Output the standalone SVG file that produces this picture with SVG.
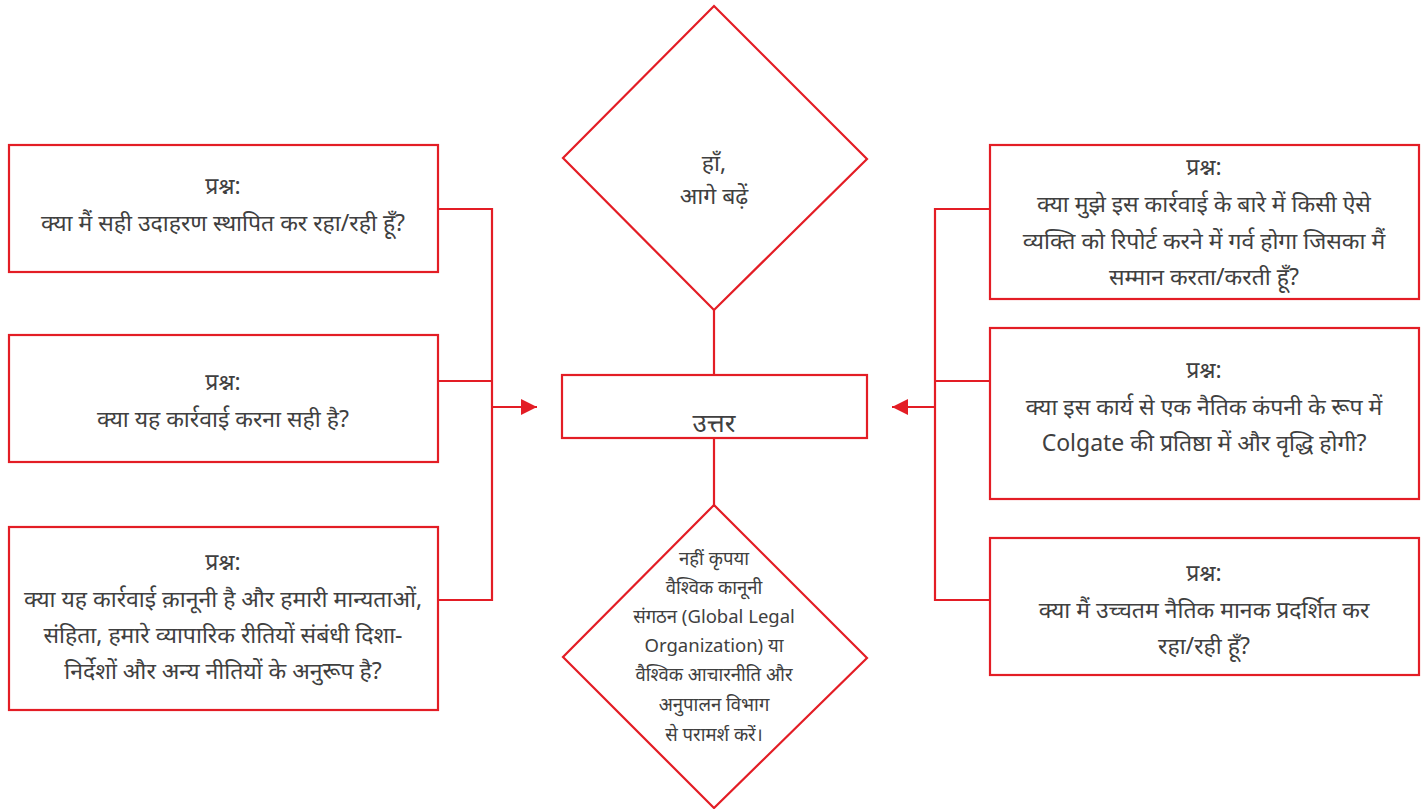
<svg xmlns="http://www.w3.org/2000/svg" width="1427" height="809" viewBox="0 0 1427 809">
<style>
.box{fill:#fff;stroke:#e31d25;stroke-width:2.2}
.ln{fill:none;stroke:#e31d25;stroke-width:2.2}
.t{font-family:"Noto Sans","Noto Sans Devanagari",sans-serif;font-size:23px;fill:#404040;text-anchor:middle}
.s{font-size:18.5px}
.big{font-size:26px}
</style>
<defs>
<marker id="ah" viewBox="0 0 10 10" refX="10" refY="5" markerWidth="16" markerHeight="16" markerUnits="userSpaceOnUse" orient="auto">
<path d="M0,0 L10,5 L0,10 z" fill="#e31d25"/>
</marker>
</defs>
<rect width="1427" height="809" fill="#fff"/>
<g id="connectors">
<path class="ln" d="M438,209 H492 V600 H438"/>
<path class="ln" d="M438,381 H492"/>
<path class="ln" d="M492,407 H537" marker-end="url(#ah)"/>
<path class="ln" d="M990,209 H935 V600 H990"/>
<path class="ln" d="M990,381 H935"/>
<path class="ln" d="M935,407 H892" marker-end="url(#ah)"/>
<path class="ln" d="M714,310 V375"/>
<path class="ln" d="M714,438 V505"/>
</g>
<g id="q1">
<rect class="box" x="9" y="145" width="429" height="127"/>
<text class="t" x="223" y="194">प्रश्न:</text>
<text class="t" x="223" y="231">क्या मैं सही उदाहरण स्थापित कर रहा/रही हूँ?</text>
</g>
<g id="q2">
<rect class="box" x="9" y="335" width="429" height="127"/>
<text class="t" x="223" y="390">प्रश्न:</text>
<text class="t" x="223" y="427">क्या यह कार्रवाई करना सही है?</text>
</g>
<g id="q3">
<rect class="box" x="9" y="527" width="429" height="183"/>
<text class="t" x="223" y="570">प्रश्न:</text>
<text class="t" x="223" y="607">क्या यह कार्रवाई क़ानूनी है और हमारी मान्यताओं,</text>
<text class="t" x="223" y="643">संहिता, हमारे व्यापारिक रीतियों संबंधी दिशा-</text>
<text class="t" x="223" y="679">निर्देशों और अन्य नीतियों के अनुरूप है?</text>
</g>
<g id="yes">
<polygon class="box" points="714,6 867,159 714,310 563,158"/>
<text class="t" x="714" y="171">हाँ,</text>
<text class="t" x="714" y="204">आगे बढ़ें</text>
</g>
<g id="answer">
<rect class="box" x="562" y="375" width="305" height="63"/>
<text class="t big" x="714" y="432">उत्तर</text>
</g>
<g id="no">
<polygon class="box" points="714,505 867,658 714,808 563,657"/>
<text class="t s" x="714" y="565">नहीं कृपया</text>
<text class="t s" x="714" y="594">वैश्विक कानूनी</text>
<text class="t s" x="714" y="623">संगठन (Global Legal</text>
<text class="t s" x="714" y="652">Organization) या</text>
<text class="t s" x="714" y="681">वैश्विक आचारनीति और</text>
<text class="t s" x="714" y="711">अनुपालन विभाग</text>
<text class="t s" x="714" y="741">से परामर्श करें।</text>
</g>
<g id="q4">
<rect class="box" x="990" y="145" width="429" height="154"/>
<text class="t" x="1204" y="175">प्रश्न:</text>
<text class="t" x="1204" y="212">क्या मुझे इस कार्रवाई के बारे में किसी ऐसे</text>
<text class="t" x="1204" y="249">व्यक्ति को रिपोर्ट करने में गर्व होगा जिसका मैं</text>
<text class="t" x="1204" y="285">सम्मान करता/करती हूँ?</text>
</g>
<g id="q5">
<rect class="box" x="990" y="328" width="429" height="171"/>
<text class="t" x="1204" y="378">प्रश्न:</text>
<text class="t" x="1204" y="415">क्या इस कार्य से एक नैतिक कंपनी के रूप में</text>
<text class="t" x="1204" y="451">Colgate की प्रतिष्ठा में और वृद्धि होगी?</text>
</g>
<g id="q6">
<rect class="box" x="990" y="538" width="429" height="137"/>
<text class="t" x="1204" y="581">प्रश्न:</text>
<text class="t" x="1204" y="618">क्या मैं उच्चतम नैतिक मानक प्रदर्शित कर</text>
<text class="t" x="1204" y="654">रहा/रही हूँ?</text>
</g>
</svg>
